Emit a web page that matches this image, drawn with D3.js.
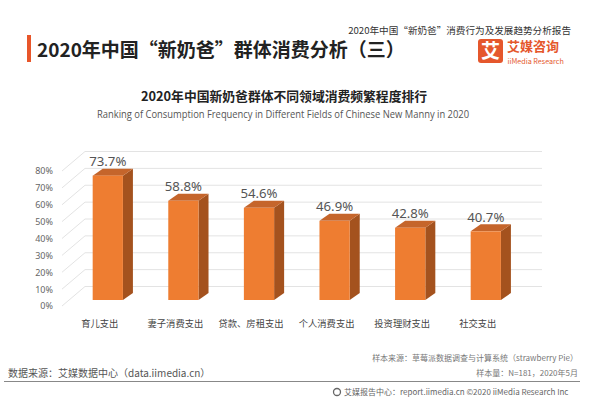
<!DOCTYPE html>
<html><head><meta charset="utf-8">
<script src="https://cdn.jsdelivr.net/npm/d3@7"></script>
<style>
html,body{margin:0;padding:0;background:#fff;}
svg{display:block;font-family:"Noto Sans CJK SC","Noto Sans",sans-serif;}
</style></head>
<body><svg id="c" width="600" height="412"></svg>
<script>
const categories = ["育儿支出","妻子消费支出","贷款、房租支出","个人消费支出","投资理财支出","社交支出"];
const values = [73.7, 58.8, 54.6, 46.9, 42.8, 40.7];
const yTicks = [0,10,20,30,40,50,60,70,80];
const mainTitle = "2020年中国“新奶爸”群体消费分析（三）";
const reportTitle = "2020年中国“新奶爸”消费行为及发展趋势分析报告";
const chartTitle = "2020年中国新奶爸群体不同领域消费频繁程度排行";
const chartSubtitle = "Ranking of Consumption Frequency in Different Fields of Chinese New Manny in 2020";

const svg = d3.select("#c");
const orange = "#EE7D31";

// Header
svg.append("rect").attr("x",27).attr("y",35).attr("width",4).attr("height",27).attr("fill","#E8562A");
svg.append("text").attr("x",37).attr("y",57).attr("font-size",19).attr("font-weight","bold").attr("fill","#222").text(mainTitle);
svg.append("text").attr("x",571).attr("y",33.5).attr("text-anchor","end").attr("font-size",9.6).attr("fill","#333").text(reportTitle);
svg.append("rect").attr("x",478).attr("y",39).attr("width",25).attr("height",24).attr("rx",3).attr("fill","#E5572C");
svg.append("text").attr("x",490.5).attr("y",58).attr("text-anchor","middle").attr("font-size",19).attr("font-weight","bold").attr("fill","#fff").text("艾");
svg.append("text").attr("x",507).attr("y",50.5).attr("font-size",13).attr("font-weight","bold").attr("fill","#E5572C").text("艾媒咨询");
svg.append("text").attr("x",507.5).attr("y",63.5).attr("font-size",7.2).attr("fill","#E5572C").text("iiMedia Research");

// Chart titles
svg.append("text").attr("x",284).attr("y",101).attr("text-anchor","middle").attr("font-size",12.8).attr("font-weight","bold").attr("fill","#222").text(chartTitle);
svg.append("text").attr("x",283).attr("y",118).attr("text-anchor","middle").attr("font-size",10).attr("fill","#555")
  .attr("textLength",372).attr("lengthAdjust","spacingAndGlyphs").attr("font-family","'Open Sans',sans-serif").text(chartSubtitle);

// Scales
const y = d3.scaleLinear().domain([0,80]).range([306,171]);
const x = d3.scaleBand().domain(categories).range([70,523.6]).paddingInner(0.6).paddingOuter(0.3);
const wallDX = 23, wallDY = -19.5;      // back wall offset
const frontX = 62, wallEnd = 542;
const barDX = 10, barDY = -7, barBaseShift = -6;

// Gridlines (left wall diagonal + back wall)
const g = svg.append("g");
yTicks.forEach(t => {
  g.append("line").attr("x1",frontX).attr("y1",y(t)).attr("x2",frontX+wallDX).attr("y2",y(t)+wallDY)
    .attr("stroke","#e3e3e3").attr("stroke-width",1);
  g.append("line").attr("x1",frontX+wallDX).attr("y1",y(t)+wallDY).attr("x2",wallEnd).attr("y2",y(t)+wallDY)
    .attr("stroke","#e3e3e3").attr("stroke-width",1);
});
// Y axis labels
const yAxis = d3.axisLeft(y).tickValues(yTicks).tickFormat(d=>d+"%").tickSize(0).tickPadding(0);
const ya = svg.append("g").attr("transform","translate(53,0)").call(yAxis);
ya.select(".domain").remove();
ya.selectAll("text").attr("font-size",9).attr("fill","#666").attr("font-family","'Noto Sans',sans-serif");

// Bars
const bw = x.bandwidth();
const bars = svg.append("g");
categories.forEach((c,i) => {
  const v = values[i];
  const x0 = x(c), x1 = x0 + bw;
  const yb = y(0) + barBaseShift;
  const yt = yb - (y(0) - y(v));
  bars.append("path").attr("d",`M${x1},${yt}L${x1+barDX},${yt+barDY}L${x1+barDX},${yb+barDY}L${x1},${yb}Z`).attr("fill","#A4521E");
  bars.append("path").attr("d",`M${x0},${yt}L${x0+barDX},${yt+barDY}L${x1+barDX},${yt+barDY}L${x1},${yt}Z`).attr("fill","#C5652B");
  bars.append("rect").attr("x",x0).attr("y",yt).attr("width",bw).attr("height",yb-yt).attr("fill",orange);
  bars.append("text").attr("x",x0+bw/2).attr("y",yt-9.5).attr("text-anchor","middle").attr("font-size",13.2)
    .attr("fill","#555").attr("font-family","'Noto Sans',sans-serif").text(v.toFixed(1)+"%");
  bars.append("text").attr("x",x0+bw/2-8).attr("y",327).attr("text-anchor","middle").attr("font-size",9.3)
    .attr("fill","#444").text(c);
});

// Footer
svg.append("text").attr("x",578).attr("y",361).attr("text-anchor","end").attr("font-size",8).attr("fill","#777").text("样本来源：草莓派数据调查与计算系统（strawberry Pie）");
svg.append("text").attr("x",578).attr("y",376).attr("text-anchor","end").attr("font-size",8).attr("fill","#777").text("样本量：N=181，2020年5月");
svg.append("text").attr("x",8).attr("y",377).attr("font-size",10).attr("fill","#555").text("数据来源：艾媒数据中心（data.iimedia.cn）");
svg.append("line").attr("x1",4).attr("x2",580).attr("y1",381.5).attr("y2",381.5).attr("stroke","#888").attr("stroke-width",1.2);
svg.append("circle").attr("cx",337).attr("cy",392).attr("r",3.5).attr("fill","none").attr("stroke","#666").attr("stroke-width",1.3);
svg.append("text").attr("x",344).attr("y",395).attr("font-size",8).attr("fill","#666").text("艾媒报告中心：report.iimedia.cn  ©2020  iiMedia Research Inc");
</script></body></html>
